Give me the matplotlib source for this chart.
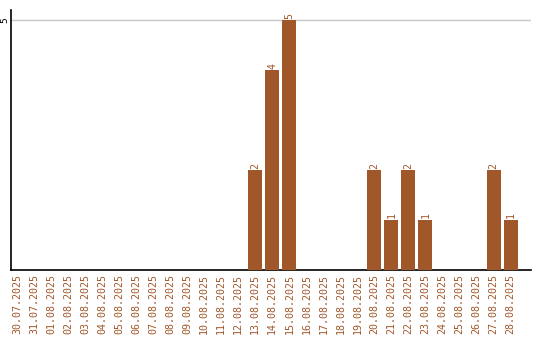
import matplotlib
matplotlib.use("Agg")
import matplotlib.pyplot as plt
import numpy as np

dates = ["30.07.2025", "31.07.2025", "01.08.2025", "02.08.2025", "03.08.2025",
         "04.08.2025", "05.08.2025", "06.08.2025", "07.08.2025", "08.08.2025",
         "09.08.2025", "10.08.2025", "11.08.2025", "12.08.2025", "13.08.2025",
         "14.08.2025", "15.08.2025", "16.08.2025", "17.08.2025", "18.08.2025",
         "19.08.2025", "20.08.2025", "21.08.2025", "22.08.2025", "23.08.2025",
         "24.08.2025", "25.08.2025", "26.08.2025", "27.08.2025", "28.08.2025"]
values = [0, 0, 0, 0, 0, 0, 0, 0, 0, 0, 0, 0, 0, 0, 2, 4, 5, 0, 0, 0,
          0, 2, 1, 2, 1, 0, 0, 0, 2, 1]
yticks = [5]

color = "#A0572A"
font = "DejaVu Sans Mono"

fig = plt.figure(figsize=(5.4, 3.4), dpi=100)
ax = fig.add_axes([11/540, 70/340, 520/540, 260/340])
x = np.arange(len(dates))
ax.bar(x, values, width=0.82, color=color, zorder=3)
for xi, v in zip(x, values):
    if v > 0:
        ax.text(xi, v + 0.03, str(v), rotation=90, ha="center", va="bottom",
                color=color, fontsize=7.2, family=font)
ax.set_xlim(-0.35, 30.2)
ax.set_ylim(0, 5.2)
ax.set_yticks(yticks)
ax.set_yticklabels([str(t) for t in yticks], rotation=90, va="center",
                   fontsize=6.8, family=font, color="black")
ax.set_xticks(x)
ax.set_xticklabels(dates, rotation=90, fontsize=7.2, family=font, color=color)
ax.tick_params(axis="x", length=0, pad=3)
ax.tick_params(axis="y", length=0, pad=1)
ax.grid(axis="y", color="#c8c8c8", linewidth=1, zorder=0)
for s in ["top", "right"]:
    ax.spines[s].set_visible(False)
ax.spines["left"].set_color("black")
ax.spines["bottom"].set_color("black")
ax.spines["left"].set_linewidth(1.2)
ax.spines["bottom"].set_linewidth(1.2)
fig.savefig("out.png", dpi=100)
